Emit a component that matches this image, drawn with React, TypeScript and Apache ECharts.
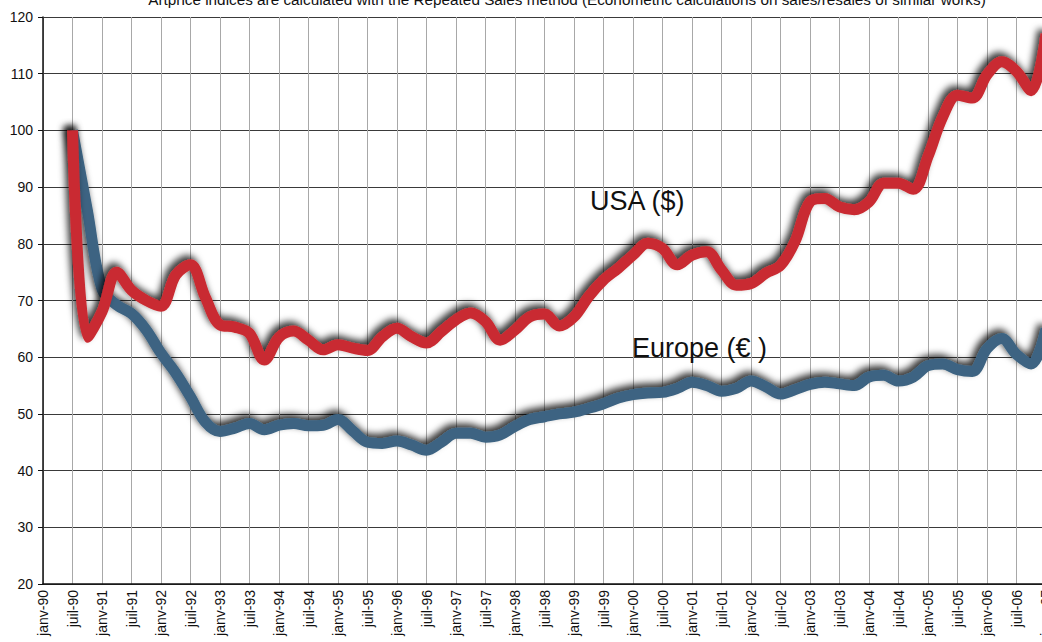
import React, { useEffect, useRef } from "react";
import * as echarts from "echarts";

const YEARS = ["90","91","92","93","94","95","96","97","98","99","00","01","02","03","04","05","06"];
const MONTHS = ["janv", "avr", "juil", "oct"];
const LAST_LABEL = "janv-07";

const CATEGORIES: string[] = [];
YEARS.forEach((y) => MONTHS.forEach((m) => CATEGORIES.push(`${m}-${y}`)));
CATEGORIES.push(LAST_LABEL);

// quarterly index values, starting at juil-90 (index 2)
const USA: (number | null)[] = [
  null, null,
  100, 63.5, 68, 75, 71.8, 70, 69, 74.5, 76.3, 70.6, 65.7, 65.3, 64.2, 59.5,
  63.5, 64.6, 63, 61.3, 62.2, 61.6, 61.2, 63.6, 65.1, 63.6, 62.5, 64.5, 66.6, 67.8, 66.3, 63,
  64.8, 67.1, 67.6, 65.5, 67.1, 70.7, 73.6, 75.7, 78, 80.1, 79.2, 76.3, 78, 78.6, 75.4, 72.7,
  73, 74.8, 76.2, 80.5, 87.4, 88, 86.5, 86, 87.4, 90.7, 90.7, 89.6, 95.4, 102.4, 106.2, 105.7,
  109.8, 112.1, 110.4, 107, 117,
];

const EUROPE: (number | null)[] = [
  null, null,
  100, 86, 72, 69.2, 67.7, 64.8, 60.7, 57.2, 53, 48.6, 46.9, 47.5, 48.3, 47.2,
  48, 48.3, 47.9, 48, 49, 47, 45, 44.8, 45.2, 44.5, 43.6, 45, 46.6, 46.6, 45.9, 46.3,
  47.8, 49, 49.5, 50, 50.3, 51, 51.8, 52.8, 53.4, 53.7, 53.8, 54.5, 55.6, 55, 54, 54.5,
  55.8, 54.8, 53.5, 54.3, 55.2, 55.6, 55.3, 55, 56.5, 56.8, 55.8, 56.5, 58.5, 58.8, 57.8, 57.5,
  61.5, 63.3, 60.5, 58.8, 65,
];

const TITLE = "Artprice indices are calculated with the Repeated Sales method (Econometric calculations on sales/resales of similar works)";
const LABEL_USA = "USA ($)";
const LABEL_EUROPE = "Europe (€ )";

const FONT = "Liberation Sans, Arial, Helvetica, sans-serif";

export default function App() {
  const ref = useRef<HTMLDivElement>(null);
  useEffect(() => {
    if (!ref.current) return;
    const chart = echarts.init(ref.current, null, { renderer: "svg" });
    const shadow = {
      shadowColor: "rgba(0,0,0,0.8)",
      shadowBlur: 7,
      shadowOffsetX: -3,
      shadowOffsetY: -4,
    };
    chart.setOption({
      animation: false,
      backgroundColor: "#ffffff",
      textStyle: { fontFamily: FONT },
      grid: {
        left: 43,
        top: 17,
        width: 1003,
        height: 567,
        containLabel: false,
        outerBoundsMode: "none",
      },
      xAxis: {
        type: "category",
        data: CATEGORIES,
        boundaryGap: false,
        axisLine: { show: true, lineStyle: { color: "#111", width: 1.5 } },
        axisTick: { show: false },
        axisLabel: {
          interval: 1,
          rotate: 90,
          fontSize: 14,
          color: "#111",
          margin: 6,
          fontFamily: FONT,
          hideOverlap: false,
        },
        splitLine: { show: true, interval: 1, lineStyle: { color: "#a8a8a8", width: 1 } },
      },
      yAxis: {
        type: "value",
        min: 20,
        max: 120,
        interval: 10,
        axisLine: { show: true, lineStyle: { color: "#111", width: 1.5 } },
        axisTick: { show: true, length: 5, lineStyle: { color: "#111" } },
        axisLabel: { fontSize: 14, color: "#111", margin: 10, fontFamily: FONT },
        splitLine: { show: true, lineStyle: { color: "#3a3a3a", width: 1.2 } },
      },
      series: [
        {
          name: "Europe",
          type: "line",
          data: EUROPE,
          smooth: 0.35,
          symbol: "none",
          lineStyle: { color: "#3d6482", width: 11, cap: "butt", join: "round", ...shadow },
          z: 2,
        },
        {
          name: "USA",
          type: "line",
          data: USA,
          smooth: 0.35,
          symbol: "none",
          lineStyle: { color: "#c92b30", width: 11, cap: "butt", join: "round", ...shadow },
          z: 3,
        },
      ],
      graphic: [
        {
          type: "text",
          x: 567,
          y: -1,
          style: {
            text: TITLE,
            fill: "#111",
            font: `15.3px ${FONT}`,
            textAlign: "center",
            textVerticalAlign: "middle",
            align: "center",
            verticalAlign: "middle",
          },
        },
        {
          type: "text",
          x: 590,
          y: 201,
          style: {
            text: LABEL_USA,
            fill: "#111",
            font: `27px ${FONT}`,
            textVerticalAlign: "middle",
            verticalAlign: "middle",
          },
          z: 10,
        },
        {
          type: "text",
          x: 632,
          y: 348,
          style: {
            text: LABEL_EUROPE,
            fill: "#111",
            font: `27px ${FONT}`,
            textVerticalAlign: "middle",
            verticalAlign: "middle",
          },
          z: 10,
        },
      ],
    });
    return () => chart.dispose();
  }, []);
  return (
    <div
      ref={ref}
      style={{ position: "fixed", left: 0, top: 0, width: 1042, height: 642 }}
    />
  );
}
